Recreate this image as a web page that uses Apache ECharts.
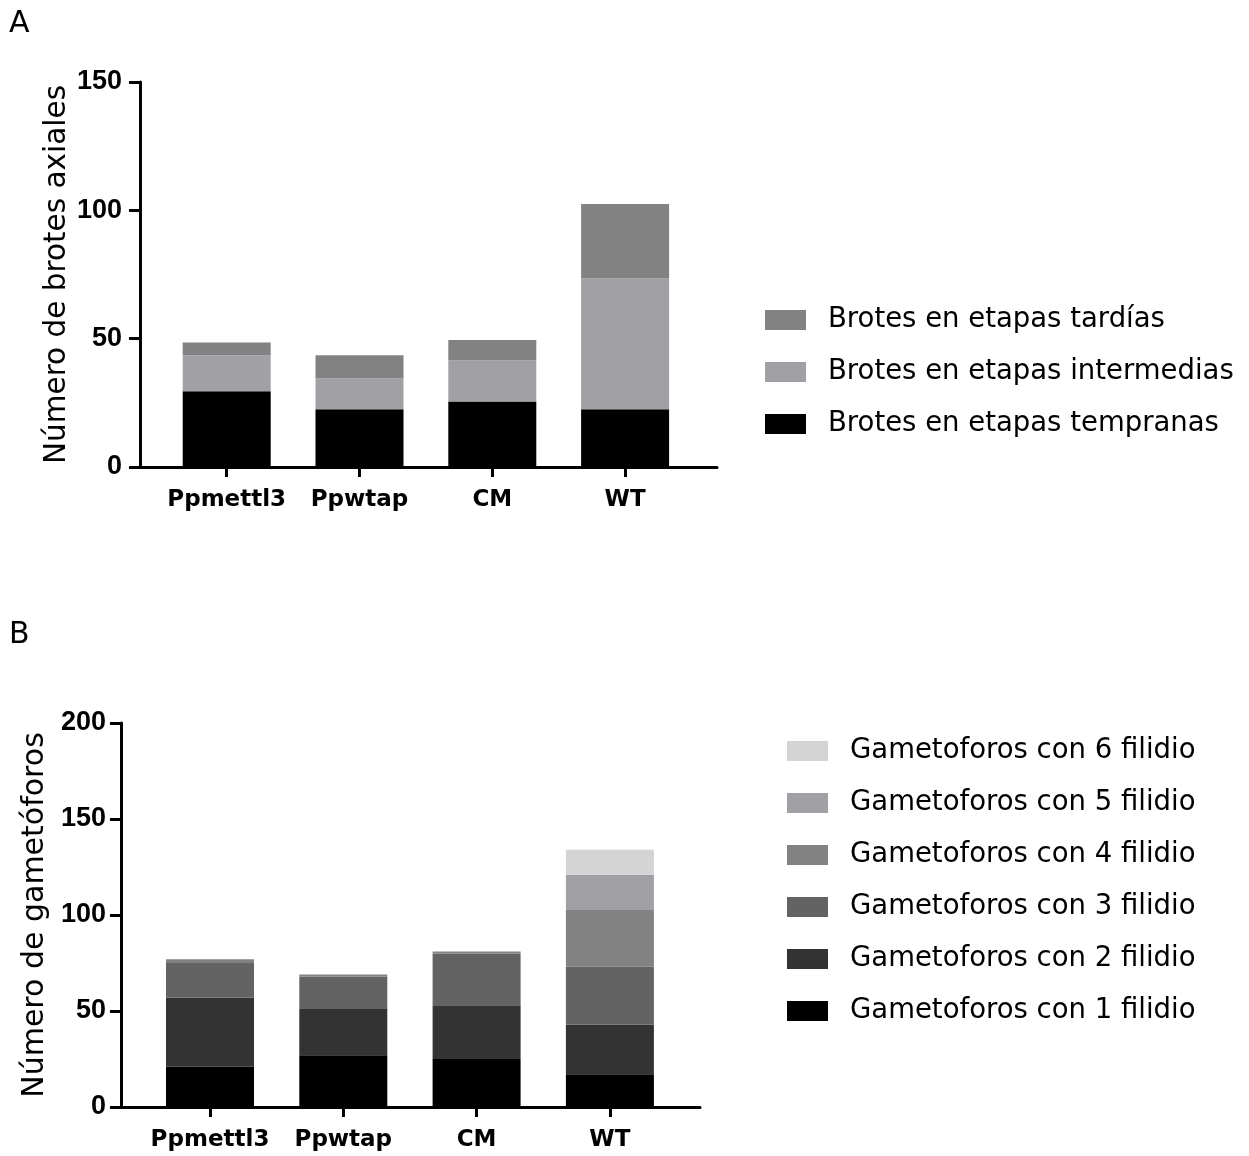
<!DOCTYPE html>
<html>
<head>
<meta charset="utf-8">
<script src="https://cdn.jsdelivr.net/npm/echarts@6/dist/echarts.min.js"></script>
<style>
html,body{margin:0;padding:0;background:#fff;}
#chart{width:1249px;height:1156px;}
</style>
</head>
<body>
<div id="chart"></div>
<script>
// ---------- Data ----------
const categories = ['Ppmettl3', 'Ppwtap', 'CM', 'WT'];

// Panel A: Número de brotes axiales
const aTempranas   = [29.5, 22.5, 25.5, 22.5];
const aIntermedias = [14, 12, 16, 51];
const aTardias     = [5, 9, 8, 29];
const aTicks = [0, 50, 100, 150];

// Panel B: Número de gametóforos
const b1 = [21, 27, 25, 17];
const b2 = [36, 24, 28, 26];
const b3 = [18, 17, 27, 30];
const b4 = [2, 1, 1, 30];
const b5 = [0, 0, 0, 18];
const b6 = [0, 0, 0, 13];
const bTicks = [0, 50, 100, 150, 200];

const namesA = ['Brotes en etapas tempranas', 'Brotes en etapas intermedias', 'Brotes en etapas tardías'];
const namesB = ['Gametoforos con 1 filidio', 'Gametoforos con 2 filidio', 'Gametoforos con 3 filidio',
                'Gametoforos con 4 filidio', 'Gametoforos con 5 filidio', 'Gametoforos con 6 filidio'];

const colorsA = ['#000000', '#a1a0a5', '#828282'];
const colorsB = ['#000000', '#333333', '#636363', '#828282', '#a1a0a5', '#d4d4d4'];

// ---------- Helpers ----------
const FONT = 'DejaVu Sans';
const NUMFONT = 'Liberation Sans';
const BLACK = { color: '#000', width: 3 };

// wide "frame" x axis: only the axis line
function frameX(gridIndex) {
  return {
    type: 'value', gridIndex, min: 0, max: 1,
    axisLine: { show: true, onZero: false, lineStyle: BLACK },
    axisTick: { show: false }, axisLabel: { show: false }, splitLine: { show: false }
  };
}
// category x axis over the bar area: ticks + labels
function catX(gridIndex) {
  return {
    type: 'category', gridIndex, data: categories, boundaryGap: true,
    axisLine: { show: false },
    axisTick: { show: true, interval: 0, alignWithLabel: true, length: 10, lineStyle: BLACK },
    axisLabel: { interval: 0, hideOverlap: false, margin: 22, color: '#000', fontFamily: FONT, fontWeight: 'bold', fontSize: 23 },
    splitLine: { show: false }
  };
}
function visY(gridIndex, name, ticks, nameGap, margin, nameSize) {
  return {
    type: 'value', gridIndex, name, nameLocation: 'middle', nameRotate: 90, nameGap,
    nameTextStyle: { color: '#000', fontFamily: FONT, fontSize: nameSize },
    min: ticks[0], max: ticks[ticks.length - 1], interval: ticks[1] - ticks[0],
    axisLine: { show: true, onZero: false, lineStyle: BLACK },
    axisTick: { show: true, length: 11, lineStyle: BLACK },
    axisLabel: { color: '#000', fontFamily: NUMFONT, fontWeight: 'bold', fontSize: 27, margin },
    splitLine: { show: false }
  };
}
function hidY(gridIndex, ticks) {
  return {
    type: 'value', gridIndex, show: false,
    min: ticks[0], max: ticks[ticks.length - 1], interval: ticks[1] - ticks[0],
    splitLine: { show: false }
  };
}

const seriesA = [aTempranas, aIntermedias, aTardias].map((arr, i) => ({
  name: namesA[i], type: 'bar', stack: 'A', xAxisIndex: 1, yAxisIndex: 1,
  barWidth: 88, data: arr, itemStyle: { color: colorsA[i] }
}));
const seriesB = [b1, b2, b3, b4, b5, b6].map((arr, i) => ({
  name: namesB[i], type: 'bar', stack: 'B', xAxisIndex: 3, yAxisIndex: 3,
  barWidth: 88, data: arr, itemStyle: { color: colorsB[i] }
}));

const legendText = { color: '#000', fontFamily: FONT, fontSize: 27.5, lineHeight: 30, padding: [0, 0, 0, 17] };

const option = {
  backgroundColor: '#fff',
  animation: false,
  grid: [
    { left: 140, top: 82, width: 577, height: 385 },        // A frame
    { left: 160.3, top: 82, width: 531.2, height: 385 },    // A bars
    { left: 121, top: 723, width: 579, height: 384 },       // B frame
    { left: 143.35, top: 723, width: 533.2, height: 384 }   // B bars
  ],
  xAxis: [frameX(0), catX(1), frameX(2), catX(3)],
  yAxis: [
    visY(0, 'Número de brotes axiales', aTicks, 68, 18, 29.5),
    hidY(1, aTicks),
    visY(2, 'Número de gametóforos', bTicks, 71, 15, 30),
    hidY(3, bTicks)
  ],
  legend: [
    {
      data: namesA.slice().reverse(), orient: 'vertical', left: 760, top: 300,
      itemWidth: 41, itemHeight: 20, itemGap: 22, icon: 'rect',
      textStyle: legendText, selectedMode: false
    },
    {
      data: namesB.slice().reverse(), orient: 'vertical', left: 782, top: 731,
      itemWidth: 41, itemHeight: 20, itemGap: 22, icon: 'rect',
      textStyle: legendText, selectedMode: false
    }
  ],
  graphic: [
    { type: 'text', left: 9, top: 9, style: { text: 'A', fontFamily: FONT, fontSize: 30, fill: '#000' } },
    { type: 'text', left: 9, top: 620, style: { text: 'B', fontFamily: FONT, fontSize: 30, fill: '#000' } }
  ],
  series: [...seriesA, ...seriesB]
};

const chart = echarts.init(document.getElementById('chart'), null, { renderer: 'canvas' });
chart.setOption(option);
</script>
</body>
</html>
